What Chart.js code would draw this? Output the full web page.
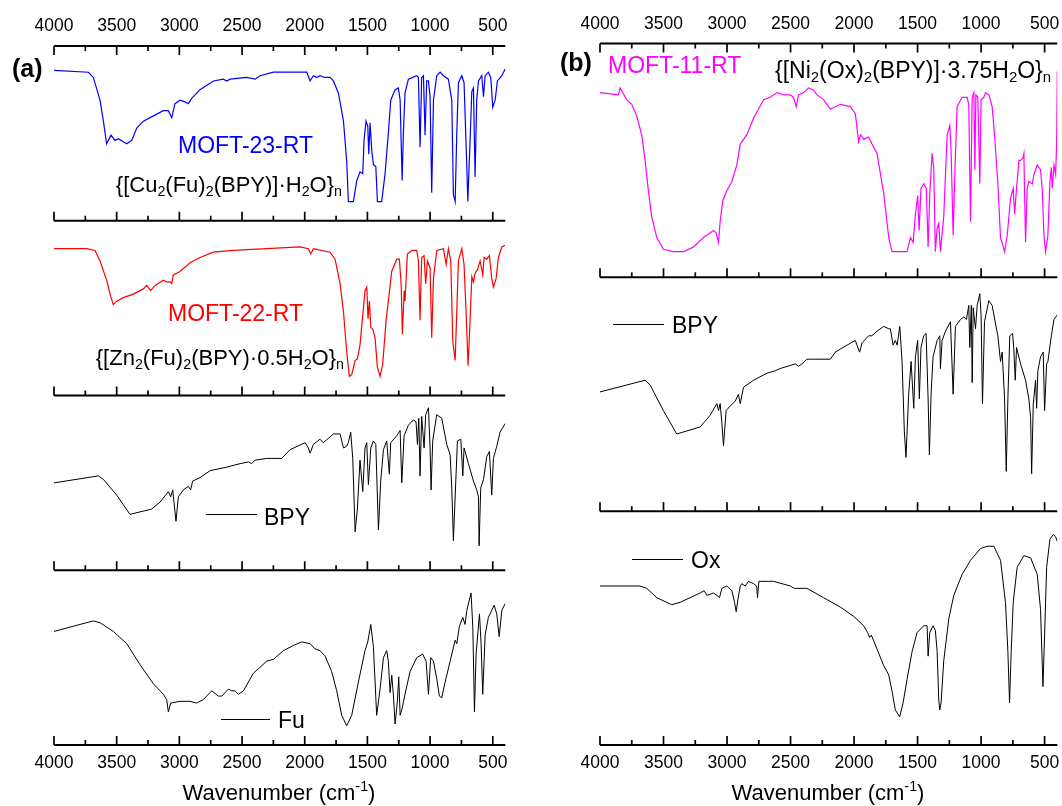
<!DOCTYPE html>
<html>
<head>
<meta charset="utf-8">
<script src="https://cdn.jsdelivr.net/npm/chart.js@4.4.1/dist/chart.umd.min.js"></script>
<style>
  body { margin: 0; background: #fff; }
  #wrap { position: relative; width: 1062px; height: 806px; overflow: hidden;
          font-family: "Liberation Sans", Arial, sans-serif; color: #000; }
  canvas { position: absolute; top: 0; }
  .lbl { position: absolute; font-size: 23px; line-height: 1; white-space: nowrap; }
  .lbl sub { font-size: 65%; vertical-align: -0.3em; line-height: 0; }
  .key { position: absolute; height: 0; border-top: 1px solid #000; }
  .title { position: absolute; font-size: 22px; line-height: 1; white-space: nowrap; transform: translateX(-50%); }
  .title sup { font-size: 65%; vertical-align: 0.6em; line-height: 0; }
</style>
</head>
<body>
<div id="wrap">
  <canvas id="panelA" width="530" height="806" style="left:0"></canvas>
  <canvas id="panelB" width="532" height="806" style="left:530px"></canvas>

  <div class="lbl" style="left:12px;top:56px;font-size:25px;font-weight:bold">(a)</div>
  <div class="lbl" style="left:178px;top:134px;color:#0000ff">MOFT-23-RT</div>
  <div class="lbl" style="right:720px;top:174px;font-size:22px">{[Cu<sub>2</sub>(Fu)<sub>2</sub>(BPY)]·H<sub>2</sub>O}<sub>n</sub></div>
  <div class="lbl" style="left:168px;top:302px;color:#ff0000">MOFT-22-RT</div>
  <div class="lbl" style="right:718px;top:347px;font-size:22px">{[Zn<sub>2</sub>(Fu)<sub>2</sub>(BPY)·0.5H<sub>2</sub>O}<sub>n</sub></div>
  <div class="key" style="left:206px;top:514px;width:51px"></div>
  <div class="lbl" style="left:264px;top:506px">BPY</div>
  <div class="key" style="left:221px;top:719px;width:49px"></div>
  <div class="lbl" style="left:278px;top:709px">Fu</div>
  <div class="title" style="left:279px;top:782px">Wavenumber (cm<sup>-1</sup>)</div>

  <div class="lbl" style="left:560px;top:50px;font-size:25px;font-weight:bold">(b)</div>
  <div class="lbl" style="left:608px;top:54px;color:#ff00ff">MOFT-11-RT</div>
  <div class="lbl" style="left:775px;top:59px">{[Ni<sub>2</sub>(Ox)<sub>2</sub>(BPY)]·3.75H<sub>2</sub>O}<sub>n</sub></div>
  <div class="key" style="left:613px;top:324px;width:51px"></div>
  <div class="lbl" style="left:672px;top:314px">BPY</div>
  <div class="key" style="left:632px;top:559px;width:51px"></div>
  <div class="lbl" style="left:691px;top:549px">Ox</div>
  <div class="title" style="left:828px;top:782px">Wavenumber (cm<sup>-1</sup>)</div>
</div>

<script>
// axis ticks (cm-1)
const xTicks = [4000, 3500, 3000, 2500, 2000, 1500, 1000, 500];
const xMinor = [3750, 3250, 2750, 2250, 1750, 1250, 750];

// spectra: [wavenumber, % of its strip height]
const spectrumCu = [[4000,86],[3726,85],[3686,82],[3633,69],[3606,57],[3580,44],[3545,49],[3513,46],[3487,47],[3420,44],
  [3380,46],[3340,53],[3287,57],[3207,60],[3128,63],[3088,63],[3061,59],[3035,67],[2995,69],[2955,68],
  [2928,67],[2902,70],[2835,75],[2729,80],[2649,81],[2622,80],[2596,81],[2463,82],[2396,81],[2356,83],
  [2250,85],[2037,85],[1984,85],[1957,80],[1931,83],[1904,82],[1878,83],[1838,82],[1798,82],[1771,80],
  [1731,73],[1691,57],[1665,34],[1652,11],[1612,11],[1585,23],[1559,28],[1537,27],[1527,46],[1511,57],
  [1497,54],[1489,38],[1479,56],[1465,40],[1452,32],[1433,31],[1420,11],[1386,11],[1359,27],[1333,50],
  [1314,69],[1279,75],[1253,76],[1239,69],[1223,23],[1213,50],[1200,73],[1173,81],[1106,83],[1093,82],
  [1080,42],[1067,82],[1053,83],[1040,49],[1027,80],[1013,80],[1000,71],[987,16],[973,69],[947,83],
  [920,85],[894,83],[854,81],[827,69],[814,15],[800,11],[787,50],[774,79],[747,83],[729,79],
  [707,31],[699,11],[681,46],[667,74],[654,76],[641,25],[628,69],[614,80],[588,83],[574,71],
  [561,83],[535,85],[516,82],[500,65],[481,69],[463,80],[428,83],[400,87]];

const spectrumZn = [[4000,84],[3739,84],[3673,83],[3633,77],[3580,66],[3553,58],[3527,52],[3500,54],[3447,56],[3367,58],
  [3287,61],[3261,63],[3229,60],[3194,63],[3128,66],[3101,65],[3074,65],[3061,64],[3048,69],[2995,71],
  [2915,76],[2835,79],[2729,82],[2569,83],[2303,84],[2037,85],[1971,84],[1952,81],[1931,84],[1798,82],
  [1758,78],[1718,64],[1691,48],[1665,25],[1644,11],[1625,12],[1598,20],[1580,21],[1559,29],[1537,46],
  [1519,60],[1505,62],[1495,44],[1484,54],[1473,39],[1457,38],[1439,33],[1420,16],[1399,11],[1378,18],
  [1351,43],[1333,54],[1306,71],[1266,78],[1245,78],[1231,64],[1221,35],[1207,60],[1200,54],[1181,81],
  [1146,83],[1106,83],[1093,77],[1080,43],[1067,79],[1048,80],[1035,64],[1021,77],[1000,73],[987,33],
  [973,67],[947,83],[894,84],[872,75],[854,84],[835,77],[819,31],[800,20],[787,48],[774,77],
  [747,84],[729,75],[713,48],[697,17],[681,43],[667,68],[654,65],[641,70],[622,72],[601,77],
  [580,69],[569,79],[548,78],[527,80],[508,67],[495,62],[473,67],[455,79],[428,85],[400,86]];

const spectrumBpyA = [[4000,50],[3646,54],[3606,52],[3500,43],[3394,32],[3221,35],[3154,39],[3088,45],[3069,42],[3053,46],
  [3027,28],[3008,42],[2968,46],[2928,48],[2910,46],[2894,51],[2835,53],[2755,57],[2622,59],[2516,61],
  [2449,62],[2423,61],[2396,63],[2303,64],[2184,64],[2117,69],[1997,73],[1971,70],[1957,67],[1931,72],
  [1878,75],[1851,73],[1771,78],[1718,78],[1691,70],[1665,71],[1652,73],[1633,79],[1617,64],[1598,22],
  [1580,35],[1559,63],[1537,45],[1519,70],[1505,73],[1492,49],[1473,70],[1452,74],[1433,72],[1412,23],
  [1394,51],[1372,69],[1346,74],[1325,55],[1314,73],[1266,77],[1239,80],[1226,50],[1207,77],[1173,83],
  [1133,86],[1112,85],[1101,72],[1090,87],[1080,54],[1067,88],[1048,70],[1035,89],[1013,93],[1000,70],
  [992,46],[979,74],[947,89],[907,87],[867,72],[840,66],[827,47],[814,17],[795,51],[782,74],
  [755,75],[739,54],[729,70],[694,61],[654,51],[628,46],[614,42],[609,14],[596,47],[574,52],
  [548,65],[527,68],[508,43],[495,64],[468,71],[442,79],[400,84]];

const spectrumFu = [[4000,65],[3793,69],[3686,71],[3633,70],[3527,65],[3420,58],[3314,46],[3207,35],[3128,29],[3101,26],
  [3088,19],[3069,24],[2995,25],[2915,25],[2862,24],[2809,26],[2742,31],[2689,28],[2662,28],[2609,32],
  [2582,31],[2556,31],[2529,29],[2489,31],[2410,41],[2303,48],[2250,49],[2170,54],[2090,57],[2024,59],
  [1957,58],[1918,55],[1878,54],[1838,51],[1785,42],[1745,31],[1705,17],[1665,11],[1625,17],[1572,36],
  [1519,54],[1497,59],[1473,69],[1452,56],[1426,17],[1399,32],[1372,50],[1346,54],[1333,48],[1319,30],
  [1306,40],[1293,29],[1279,12],[1261,25],[1250,39],[1239,17],[1226,20],[1200,29],[1160,42],[1106,50],
  [1059,52],[1032,48],[1013,29],[995,50],[973,48],[947,38],[926,28],[907,27],[880,36],[840,48],
  [800,60],[787,58],[766,68],[739,73],[721,69],[707,77],[673,87],[659,67],[646,19],[633,52],
  [606,75],[593,58],[580,29],[561,63],[535,73],[489,80],[468,75],[449,62],[428,77],[400,81]];

const spectrumNi = [[4000,79],[3855,78],[3842,81],[3790,76],[3750,74],[3711,69],[3672,61],[3645,50],[3619,37],[3593,26],
  [3553,17],[3501,12],[3422,11],[3343,11],[3264,13],[3185,17],[3107,20],[3086,19],[3067,15],[3054,24],
  [3033,33],[3002,37],[2962,41],[2923,48],[2896,57],[2844,61],[2791,68],[2712,76],[2660,77],[2607,79],
  [2555,78],[2502,78],[2476,77],[2455,73],[2437,78],[2397,79],[2358,81],[2318,80],[2292,78],[2240,76],
  [2187,72],[2108,74],[2029,73],[1990,70],[1964,58],[1950,61],[1924,59],[1885,60],[1859,57],[1819,53],
  [1767,36],[1727,17],[1701,11],[1583,11],[1556,17],[1535,15],[1517,27],[1499,35],[1488,20],[1473,38],
  [1452,40],[1431,38],[1417,13],[1404,36],[1386,53],[1373,47],[1360,11],[1346,21],[1333,23],[1320,11],
  [1294,26],[1267,61],[1246,65],[1236,54],[1220,18],[1205,47],[1189,73],[1149,77],[1110,77],[1097,74],
  [1083,24],[1070,77],[1057,79],[1049,46],[1041,78],[1026,77],[1010,40],[1000,76],[979,77],[965,79],
  [939,78],[913,73],[894,61],[868,40],[847,17],[815,11],[794,18],[768,34],[747,38],[736,27],
  [721,38],[702,50],[689,50],[671,51],[663,53],[658,37],[650,15],[637,38],[624,41],[597,40],
  [584,44],[558,48],[532,46],[519,38],[505,18],[492,11],[474,18],[458,41],[447,47],[440,38],
  [426,48],[413,44],[405,58],[400,88]];

const spectrumBpyB = [[4000,51],[3645,56],[3606,54],[3501,43],[3396,33],[3212,36],[3133,41],[3080,46],[3067,43],[3054,46],
  [3041,38],[3028,28],[3007,43],[2975,45],[2936,47],[2910,50],[2896,46],[2870,53],[2791,56],[2686,59],
  [2621,60],[2581,61],[2463,63],[2437,62],[2410,63],[2371,65],[2318,65],[2187,65],[2148,68],[2056,71],
  [1990,73],[1977,71],[1956,68],[1937,72],[1885,75],[1859,75],[1819,77],[1767,79],[1727,78],[1714,78],
  [1693,71],[1675,73],[1661,71],[1640,79],[1622,64],[1604,34],[1591,23],[1570,50],[1551,64],[1530,44],
  [1517,66],[1499,73],[1486,48],[1473,70],[1452,75],[1433,76],[1417,48],[1407,24],[1393,51],[1378,66],
  [1346,73],[1325,75],[1320,61],[1307,73],[1280,77],[1241,81],[1220,50],[1202,79],[1162,82],[1136,83],
  [1115,82],[1097,88],[1089,70],[1077,88],[1070,55],[1062,87],[1044,78],[1031,88],[1010,93],[1000,84],
  [989,46],[973,81],[939,90],[913,88],[886,80],[868,75],[847,64],[834,68],[815,48],[802,17],
  [789,48],[774,75],[752,76],[743,70],[731,56],[721,70],[689,63],[650,56],[624,48],[610,40],
  [602,16],[589,46],[571,56],[563,44],[553,60],[532,66],[511,68],[500,43],[484,63],[474,64],
  [447,75],[426,82],[400,84]];

const spectrumOx = [[4000,68],[3685,68],[3632,67],[3553,63],[3435,60],[3369,61],[3291,63],[3212,65],[3180,66],[3159,64],
  [3107,65],[3080,64],[3059,63],[3041,67],[3002,68],[2962,66],[2941,61],[2928,57],[2915,62],[2896,68],
  [2883,69],[2857,68],[2831,70],[2791,69],[2767,68],[2760,63],[2749,70],[2739,70],[2634,70],[2502,68],
  [2471,67],[2371,67],[2240,63],[2108,59],[2003,55],[1924,51],[1893,48],[1877,46],[1864,47],[1819,41],
  [1767,34],[1727,30],[1701,23],[1675,15],[1641,12],[1614,18],[1583,28],[1543,40],[1504,48],[1452,51],
  [1425,51],[1417,38],[1404,48],[1378,51],[1360,49],[1346,40],[1333,19],[1325,15],[1315,18],[1294,36],
  [1254,54],[1215,64],[1149,73],[1083,79],[1005,84],[952,85],[900,85],[847,79],[808,61],[789,40],
  [776,18],[763,40],[747,61],[716,76],[663,81],[610,80],[558,73],[532,58],[513,25],[500,47],
  [484,76],[458,88],[432,90],[413,89],[400,87]];

Chart.defaults.font.family = '"Liberation Sans", Arial, sans-serif';
Chart.defaults.color = '#000';

// strip frames: a line with inward ticks at every strip boundary
const framePlugin = {
  id: 'frames',
  afterDatasetsDraw(chart, args, opts) {
    const { ctx, chartArea } = chart;
    const xs = chart.scales.x, ys = chart.scales.y;
    const n = opts.bands;
    ctx.save();
    ctx.strokeStyle = '#000';
    for (let k = 0; k <= n; k++) {
      const y = ys.getPixelForValue(k);
      const dir = k === n ? 1 : -1;
      ctx.lineWidth = 2;
      ctx.beginPath();
      ctx.moveTo(chartArea.left, y);
      ctx.lineTo(chartArea.right, y);
      ctx.stroke();
      ctx.lineWidth = 1.7;
      xTicks.forEach(v => {
        const x = xs.getPixelForValue(v);
        ctx.beginPath(); ctx.moveTo(x, y); ctx.lineTo(x, y + dir * 9); ctx.stroke();
      });
      xMinor.forEach(v => {
        const x = xs.getPixelForValue(v);
        ctx.beginPath(); ctx.moveTo(x, y); ctx.lineTo(x, y + dir * 5); ctx.stroke();
      });
    }
    ctx.restore();
  }
};

function toPoints(spec, band) {
  return spec.map(p => ({ x: p[0], y: band + p[1] / 100 }));
}

function xAxis(position, size, pad) {
  return {
    type: 'linear', position: position, reverse: true, min: 400, max: 4000,
    afterBuildTicks: s => { s.ticks = xTicks.map(v => ({ value: v })); },
    afterFit: s => { s.height = size; },
    grid: { display: false }, border: { display: false },
    ticks: { autoSkip: false, maxRotation: 0, padding: pad, font: { size: 17.5 }, callback: v => String(v) }
  };
}

function makePanel(id, sets, bands, pad, topH) {
  new Chart(document.getElementById(id), {
    type: 'line',
    data: {
      datasets: sets.map(s => ({
        data: toPoints(s.spec, s.band),
        borderColor: s.color, borderWidth: s.width, pointRadius: 0, tension: 0, fill: false
      }))
    },
    options: {
      responsive: false, animation: false, events: [],
      layout: { padding: pad },
      plugins: { legend: { display: false }, tooltip: { enabled: false }, frames: { bands: bands } },
      scales: {
        x: xAxis('bottom', 61, 0),
        x2: xAxis('top', topH, 1),
        y: { display: false, min: 0, max: bands }
      }
    },
    plugins: [framePlugin]
  });
}

makePanel('panelA', [
  { spec: spectrumCu, band: 3, color: '#0000ff', width: 1.2 },
  { spec: spectrumZn, band: 2, color: '#ff0000', width: 1.2 },
  { spec: spectrumBpyA, band: 1, color: '#000000', width: 1 },
  { spec: spectrumFu, band: 0, color: '#000000', width: 1 }
], 4, { left: 54, right: 24.7, top: 0, bottom: 0 }, 46);

makePanel('panelB', [
  { spec: spectrumNi, band: 2, color: '#ff00ff', width: 1.2 },
  { spec: spectrumBpyB, band: 1, color: '#000000', width: 1 },
  { spec: spectrumOx, band: 0, color: '#000000', width: 1 }
], 3, { left: 70, right: 4.7, top: 0, bottom: 0 }, 43.5);
</script>
</body>
</html>
